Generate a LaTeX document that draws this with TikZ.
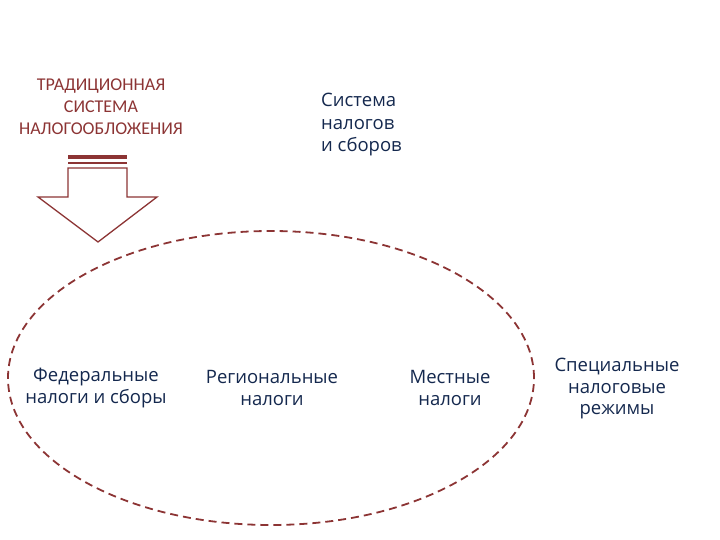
\documentclass[tikz,border=0pt]{standalone}
\usepackage{fontspec}
\usetikzlibrary{shapes.geometric}
\setmainfont{Open Sans}
\newfontfamily\titlefont{Carlito}
\definecolor{brickred}{RGB}{140,52,52}
\definecolor{navytext}{RGB}{20,40,78}
\begin{document}
\begin{tikzpicture}[x=1pt,y=-1pt,
  lbl/.style={font=\fontsize{18.5}{21.5}\selectfont, text=navytext, align=center, inner sep=0pt},
  ttl/.style={font=\titlefont\fontsize{18}{22}\selectfont, text=brickred, align=center, inner sep=0pt},
  arrowline/.style={draw=brickred, line width=1.3pt, line join=miter}]
\useasboundingbox (0,0) rectangle (720,540);
% title
\node[ttl] (title) at (101,107) {ТРАДИЦИОННАЯ\\СИСТЕМА\\НАЛОГООБЛОЖЕНИЯ};
% system
\node[lbl, align=left, anchor=west, font=\fontsize{18.5}{22.5}\selectfont] (sys) at (321,125) {Система\\налогов\\и сборов};
% ellipse
\node[draw=brickred, dashed, dash pattern=on 8pt off 5pt, line width=1.8pt, ellipse, minimum width=526pt, minimum height=294pt, inner sep=0pt] (ell) at (271,378) {};
% arrow
\fill[brickred] (68,155) rectangle (127,159);
\draw[brickred, line width=1.2pt] (68,163) -- (127,163);
\draw[arrowline] (68,168) -- (127,168) -- (127,197) -- (157,197) -- (98,242) -- (38,197) -- (68,197) -- cycle;
% labels
\node[lbl] (fed) at (96,388) {Федеральные\\налоги и сборы};
\node[lbl] (reg) at (272,388) {Региональные\\налоги};
\node[lbl] (loc) at (450,388) {Местные\\налоги};
\node[lbl] (spec) at (617,389) {Специальные\\налоговые\\режимы};
\end{tikzpicture}
\end{document}
